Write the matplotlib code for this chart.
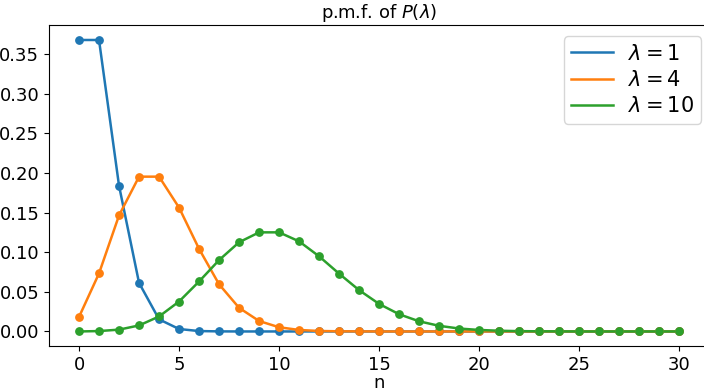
import matplotlib
matplotlib.use("Agg")
import matplotlib.pyplot as plt

n = list(range(31))
pmf_l1 = [0.3679, 0.3679, 0.1839, 0.0613, 0.0153, 0.0031, 0.0005, 0.0001] + [0.0] * 23
pmf_l4 = [0.0183, 0.0733, 0.1465, 0.1954, 0.1954, 0.1563, 0.1042, 0.0595, 0.0298,
          0.0132, 0.0053, 0.0019, 0.0006, 0.0002, 0.0001] + [0.0] * 16
pmf_l10 = [0.0000, 0.0005, 0.0023, 0.0076, 0.0189, 0.0378, 0.0631, 0.0901, 0.1126,
           0.1251, 0.1251, 0.1137, 0.0948, 0.0729, 0.0521, 0.0347, 0.0217, 0.0128,
           0.0071, 0.0037, 0.0019, 0.0009, 0.0004, 0.0002, 0.0001] + [0.0] * 6
labels = [r"$\lambda = 1$", r"$\lambda = 4$", r"$\lambda = 10$"]
yticks = [0.00, 0.05, 0.10, 0.15, 0.20, 0.25, 0.30, 0.35]
xticks = [0, 5, 10, 15, 20, 25, 30]

fig = plt.figure(figsize=(7.04, 3.91), dpi=100)
ax = fig.add_axes([0.0696, 0.115, 0.938, 0.82])
colors = ["#1f77b4", "#ff7f0e", "#2ca02c"]
for ys, lab, c in zip([pmf_l1, pmf_l4, pmf_l10], labels, colors):
    ax.plot(n, ys, color=c, lw=1.8, label=lab)
    ax.scatter(n, ys, color=c, s=28, zorder=3)

ax.set_xticks(xticks)
ax.set_yticks(yticks)
ax.set_yticklabels([f"{v:.2f}" for v in yticks])
ax.tick_params(labelsize=13)
ax.set_xlabel("n", fontsize=13, labelpad=0)
ax.set_title(r"p.m.f. of $P(\lambda)$", fontsize=13, pad=5)
leg = ax.legend(fontsize=15, loc="upper right", bbox_to_anchor=(1.003, 0.998),
                handlelength=2.0, borderpad=0.35, labelspacing=0.3, handletextpad=0.7)
fig.savefig("out.png", dpi=100)
